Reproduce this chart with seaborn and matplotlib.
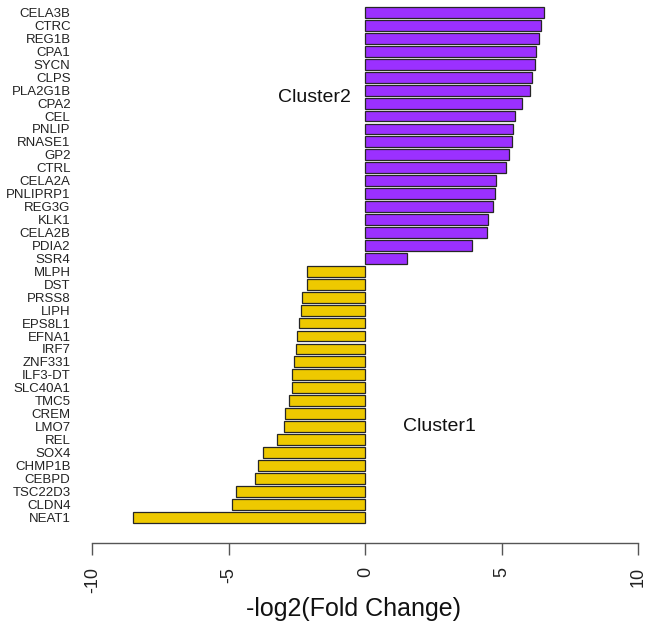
import matplotlib
matplotlib.use("Agg")
import matplotlib.pyplot as plt
import seaborn as sns
import pandas as pd

# Genes up in cluster 2 (positive) and cluster 1 (negative)
genes_c2 = ["CELA3B", "CTRC", "REG1B", "CPA1", "SYCN", "CLPS", "PLA2G1B", "CPA2",
            "CEL", "PNLIP", "RNASE1", "GP2", "CTRL", "CELA2A", "PNLIPRP1", "REG3G",
            "KLK1", "CELA2B", "PDIA2", "SSR4"]
fc_c2 = [6.53, 6.42, 6.37, 6.24, 6.23, 6.09, 6.03, 5.73, 5.48, 5.42,
         5.38, 5.27, 5.15, 4.79, 4.74, 4.69, 4.48, 4.47, 3.92, 1.51]

genes_c1 = ["MLPH", "DST", "PRSS8", "LIPH", "EPS8L1", "EFNA1", "IRF7", "ZNF331",
            "ILF3-DT", "SLC40A1", "TMC5", "CREM", "LMO7", "REL", "SOX4", "CHMP1B",
            "CEBPD", "TSC22D3", "CLDN4", "NEAT1"]
fc_c1 = [-2.12, -2.15, -2.31, -2.34, -2.44, -2.50, -2.53, -2.60, -2.67, -2.70,
         -2.80, -2.94, -2.96, -3.24, -3.74, -3.93, -4.03, -4.73, -4.90, -8.51]

x_ticks = [-10, -5, 0, 5, 10]
cluster_colors = {"Cluster2": "#9B30FF", "Cluster1": "#EEC900"}

df = pd.DataFrame({
    "gene": genes_c2 + genes_c1,
    "fc": fc_c2 + fc_c1,
    "cluster": ["Cluster2"] * len(genes_c2) + ["Cluster1"] * len(genes_c1),
})

sns.set_style("white")
plt.rcParams["font.family"] = ["Liberation Sans", "DejaVu Sans"]

W, H = 647, 633
fig = plt.figure(figsize=(W / 100, H / 100), dpi=100)
ax_left, ax_right = 78.65, 646.5
ax_bottom_px = 543.3
ax = fig.add_axes([ax_left / W, (H - ax_bottom_px) / H,
                   (ax_right - ax_left) / W, ax_bottom_px / H])

sns.barplot(data=df, x="fc", y="gene", hue="cluster", palette=cluster_colors,
            saturation=1, dodge=False, width=0.84, orient="h",
            edgecolor="#262626", linewidth=0.9, legend=False, ax=ax)

ax.set_xlim(-10.5, 10.3)
ax.set_ylim(41.02, -0.966)

# x axis in base-graphics style: line only between the end ticks
for side in ("left", "right", "top"):
    ax.spines[side].set_visible(False)
ax.spines["bottom"].set_bounds(-10, 10)
ax.spines["bottom"].set_color("#555555")
ax.spines["bottom"].set_linewidth(1.0)

ax.set_xticks(x_ticks)
ax.set_xticklabels([str(t) for t in x_ticks], rotation=90, va="top",
                   fontsize=13, color="#222222")
ax.tick_params(axis="x", length=8.6, width=1.0, color="#555555", pad=8.6,
               bottom=True)
ax.tick_params(axis="y", length=0, pad=5.8, labelsize=9.5, labelcolor="#222222")

ax.set_ylabel("")
ax.set_xlabel("-log2(Fold Change)", fontsize=18, color="#111111", va="center")
ax.xaxis.set_label_coords((353 - ax_left) / (ax_right - ax_left), -0.1209)

ax.text(-1.88, 6.6, "Cluster2", fontsize=14, ha="center", va="center", color="#111111")
ax.text(2.72, 32.0, "Cluster1", fontsize=14, ha="center", va="center", color="#111111")

fig.savefig("out.png", dpi=100, facecolor="white")
